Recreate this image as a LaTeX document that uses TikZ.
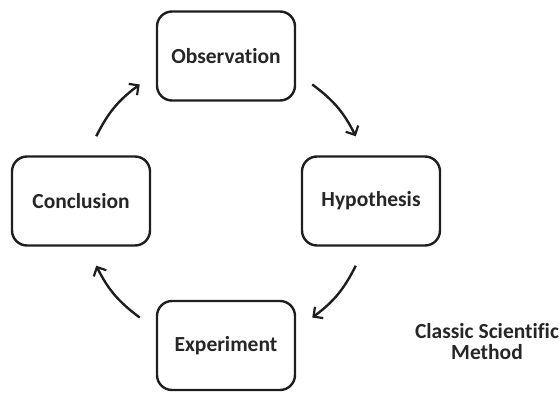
\documentclass[tikz,border=0pt]{standalone}
\usepackage{fontspec}
\setmainfont{Carlito}[Ligatures=NoCommon]
\usetikzlibrary{arrows.meta,calc}
\definecolor{ink}{RGB}{30,30,30}
\definecolor{txt}{RGB}{38,38,38}
\tikzset{
  stage/.style={draw=ink, line width=2.4pt, rounded corners=15pt,
    minimum width=138pt, minimum height=89pt, inner sep=0pt,
    font=\fontsize{21.5}{24}\selectfont\bfseries, text=txt},
  flow/.style={draw=ink, line width=2.4pt,
    -{Straight Barb[length=7pt,width=14pt,line width=2.2pt]}},
  caption/.style={font=\fontsize{21.5}{21}\selectfont\bfseries, text=txt, align=center}
}
\begin{document}
\begin{tikzpicture}[x=1pt,y=1pt]
\useasboundingbox (0,0) rectangle (560,392);
\node[stage] (obs) at (226,336) {Observation};
\node[stage] (hyp) at (371,191) {Hypothesis};
\node[stage] (con) at (81,191) {Conclusion};
\node[stage] (exp) at (226,46.5) {Experiment};
\node[caption] (cap) at (487,50) {Classic Scientific\\Method};
\coordinate (c) at (226,191);
\coordinate (a1) at ($(c)+(53.5:145)$);
\coordinate (a2) at ($(c)+(26.5:145)$);
\coordinate (b1) at ($(c)+(-26.5:145)$);
\coordinate (b2) at ($(c)+(-53.5:145)$);
\coordinate (d1) at ($(c)+(-126.5:145)$);
\coordinate (d2) at ($(c)+(-153.5:145)$);
\coordinate (e1) at ($(c)+(153.5:145)$);
\coordinate (e2) at ($(c)+(126.5:145)$);
\draw[flow] (a1) to[bend left=13.5] (a2);
\draw[flow] (b1) to[bend left=13.5] (b2);
\draw[flow] (d1) to[bend left=13.5] (d2);
\draw[flow] (e1) to[bend left=13.5] (e2);
\end{tikzpicture}
\end{document}
